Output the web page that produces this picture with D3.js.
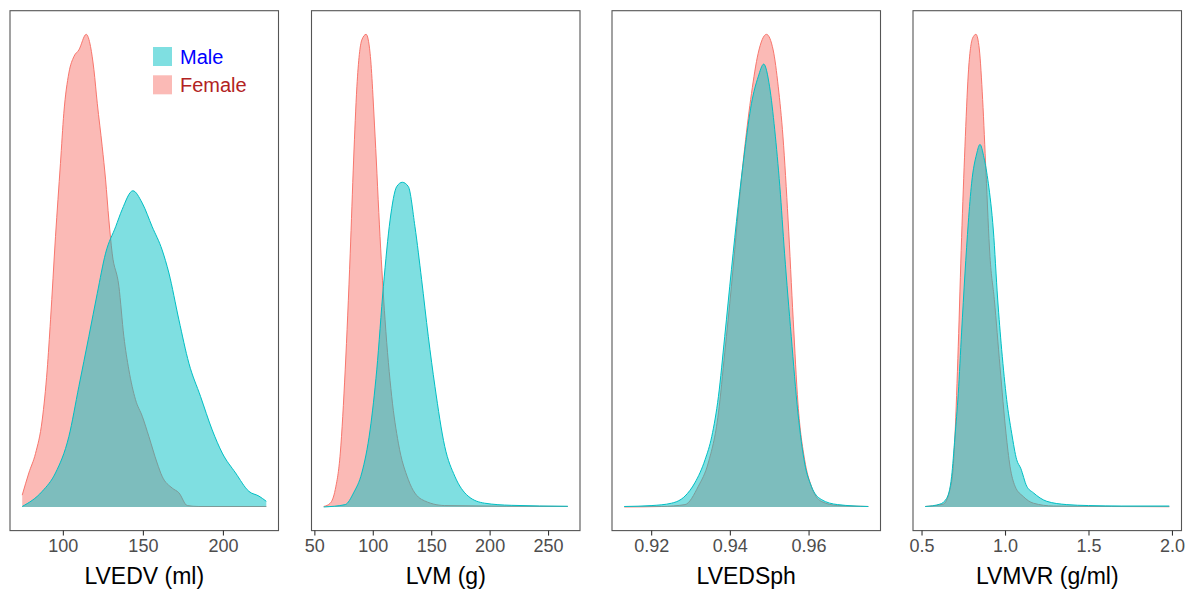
<!DOCTYPE html>
<html><head><meta charset="utf-8">
<script src="https://cdn.jsdelivr.net/npm/d3@7"></script>
<style>body{margin:0;background:#fff}svg{display:block}</style>
</head><body><svg id="c" width="1188" height="589"></svg>
<script>
// ---------- data (relative density heights) ----------
const panelTitles = ["LVEDV (ml)", "LVM (g)", "LVEDSph", "LVMVR (g/ml)"];
const seriesNames = ["Male", "Female"];

const lvedvTicks = [100, 150, 200];
const lvmTicks = [50, 100, 150, 200, 250];
const lvedsphTicks = [0.92, 0.94, 0.96];
const lvmvrTicks = [0.5, 1.0, 1.5, 2.0];

const lvedvFemale = [[74.6,0.025],[78.75,0.072],[82.9,0.113],[87.1,0.184],[90.2,0.29],[92.3,0.396],[95.4,0.572],[98.5,0.727],[100.6,0.833],[103.75,0.918],[106.9,0.953],[110,0.967],[114.6,1.0],[117.3,0.974],[119.4,0.925],[121.5,0.854],[124.6,0.762],[126.7,0.692],[128.75,0.607],[130.8,0.537],[135,0.467],[138.1,0.361],[141.25,0.29],[145.4,0.227],[149.6,0.192],[153.75,0.149],[158.9,0.093],[162,0.065],[168.3,0.04],[172.5,0.03],[177.7,0.003],[185,0.001],[227.1,0.001]];
const lvedvMale = [[74.6,0.001],[87.1,0.033],[95.4,0.072],[103.75,0.149],[110,0.255],[116.25,0.361],[121.5,0.452],[126.7,0.537],[133,0.593],[137,0.629],[143.75,0.669],[149.6,0.643],[155.8,0.593],[162,0.544],[166.25,0.495],[172.5,0.396],[178.75,0.304],[186,0.234],[193.3,0.163],[199.6,0.114],[207.9,0.072],[216.25,0.033],[222.5,0.023],[227.1,0.012]];

const lvmFemale = [[58.0,0.001],[63.6,0.008],[67.9,0.037],[72.2,0.114],[76.4,0.29],[80.7,0.537],[83.6,0.734],[86.4,0.889],[90.6,0.988],[94.3,1.0],[97.7,0.96],[102,0.783],[106.2,0.572],[110.5,0.396],[116.2,0.234],[121.9,0.135],[130.4,0.058],[141.8,0.016],[161.6,0.003],[266.9,0.001]];
const lvmMale = [[58.0,0.0],[76.4,0.005],[83.6,0.03],[90.6,0.072],[97.7,0.163],[103.4,0.29],[109.1,0.467],[114.8,0.607],[120.5,0.678],[125.3,0.687],[130.4,0.678],[136.1,0.593],[141.8,0.481],[147.5,0.361],[153.2,0.255],[161.6,0.128],[170.2,0.065],[181.6,0.023],[195.7,0.008],[218.5,0.0035],[266.9,0.0015]];

const lvedsphFemale = [[0.91315,0.0],[0.9227,0.001],[0.9286,0.005],[0.9320,0.044],[0.9345,0.093],[0.9371,0.199],[0.9387,0.326],[0.9404,0.467],[0.9421,0.622],[0.9438,0.762],[0.9455,0.875],[0.9472,0.96],[0.9493,1.0],[0.9510,0.967],[0.9523,0.889],[0.9535,0.783],[0.9548,0.607],[0.9561,0.396],[0.9573,0.22],[0.9590,0.1],[0.9607,0.044],[0.9632,0.012],[0.9674,0.003],[0.97518,0.001]];
const lvedsphMale = [[0.91315,0.001],[0.9202,0.003],[0.9252,0.008],[0.9286,0.023],[0.9311,0.051],[0.9337,0.1],[0.9354,0.149],[0.9371,0.234],[0.9387,0.361],[0.9404,0.502],[0.9421,0.636],[0.9438,0.755],[0.9455,0.854],[0.9472,0.91],[0.9486,0.937],[0.9501,0.889],[0.9514,0.798],[0.9527,0.678],[0.9539,0.537],[0.9556,0.361],[0.9573,0.199],[0.9590,0.093],[0.9607,0.044],[0.9632,0.016],[0.9674,0.005],[0.97518,0.001]];

const lvmvrFemale = [[0.522,0.001],[0.63,0.006],[0.67,0.037],[0.69,0.086],[0.70,0.148],[0.72,0.34],[0.74,0.57],[0.76,0.762],[0.78,0.916],[0.806,0.992],[0.826,1.0],[0.846,0.969],[0.866,0.862],[0.886,0.708],[0.91,0.53],[0.936,0.439],[0.97,0.297],[1.006,0.156],[1.03,0.086],[1.06,0.044],[1.11,0.022],[1.17,0.008],[1.29,0.002],[1.984,0.0005]];
const lvmvrMale = [[0.522,0.001],[0.61,0.006],[0.65,0.018],[0.68,0.064],[0.70,0.148],[0.72,0.24],[0.74,0.37],[0.76,0.493],[0.78,0.601],[0.80,0.685],[0.83,0.747],[0.85,0.767],[0.874,0.739],[0.90,0.685],[0.93,0.586],[0.956,0.44],[0.98,0.333],[1.01,0.227],[1.04,0.156],[1.07,0.10],[1.094,0.082],[1.13,0.044],[1.17,0.03],[1.25,0.012],[1.37,0.005],[1.5,0.003],[1.7,0.002],[1.984,0.002]];

// ---------- layout ----------
const panels = [
  {title: panelTitles[0], ticks: lvedvTicks, fmt: d3.format("d"), female: lvedvFemale, male: lvedvMale},
  {title: panelTitles[1], ticks: lvmTicks, fmt: d3.format("d"), female: lvmFemale, male: lvmMale},
  {title: panelTitles[2], ticks: lvedsphTicks, fmt: d3.format(".2f"), female: lvedsphFemale, male: lvedsphMale},
  {title: panelTitles[3], ticks: lvmvrTicks, fmt: d3.format(".1f"), female: lvmvrFemale, male: lvmvrMale}
];
const panelLeft = [10, 311.5, 612, 913];
const panelW = 268.5, panelTop = 10.7, panelBottom = 530.6;
const colors = {Male: "#00BFC4", Female: "#F8766D"};
const font = "'Liberation Sans', Arial, Helvetica, sans-serif";

const svg = d3.select("#c");

panels.forEach((p, i) => {
  const x0 = panelLeft[i];
  const all = p.female.concat(p.male);
  const xmin = d3.min(all, d => d[0]), xmax = d3.max(all, d => d[0]);
  const dx = (xmax - xmin) * 0.05;
  const x = d3.scaleLinear().domain([xmin - dx, xmax + dx]).range([x0, x0 + panelW]);
  const ymax = d3.max(all, d => d[1]);
  const y = d3.scaleLinear().domain([-0.05 * ymax, 1.05 * ymax]).range([panelBottom, panelTop]);

  const g = svg.append("g");
  const area = d3.area().x(d => x(d[0])).y0(y(0)).y1(d => y(d[1])).curve(d3.curveMonotoneX);
  const line = d3.line().x(d => x(d[0])).y(d => y(d[1])).curve(d3.curveMonotoneX);

  [["Female", p.female], ["Male", p.male]].forEach(([name, data]) => {
    g.append("path").attr("d", area(data)).attr("fill", colors[name]).attr("fill-opacity", 0.5);
    g.append("path").attr("d", line(data)).attr("fill", "none").attr("stroke", colors[name]).attr("stroke-width", 1);
  });

  // panel border
  g.append("rect").attr("x", x0).attr("y", panelTop).attr("width", panelW).attr("height", panelBottom - panelTop)
    .attr("fill", "none").attr("stroke", "#555").attr("stroke-width", 1.1);

  // x axis
  const ax = svg.append("g").attr("transform", `translate(0,${panelBottom})`)
    .call(d3.axisBottom(x).tickValues(p.ticks).tickFormat(p.fmt).tickSize(5).tickPadding(4));
  ax.select(".domain").remove();
  ax.selectAll(".tick line").attr("stroke", "#333").attr("stroke-width", 1.1);
  ax.selectAll(".tick text").attr("fill", "#4D4D4D").style("font-family", font).style("font-size", "18px");

  svg.append("text").attr("x", x0 + panelW / 2).attr("y", 584).attr("text-anchor", "middle")
    .style("font-family", font).style("font-size", "23px").attr("fill", "#000").text(p.title);
});

// legend
const legendColors = {Male: "#0000FF", Female: "#B22222"};
seriesNames.forEach((name, k) => {
  const ly = 47 + k * 28.3;
  svg.append("rect").attr("x", 153).attr("y", ly).attr("width", 19).attr("height", 19)
    .attr("fill", colors[name]).attr("fill-opacity", 0.5);
  svg.append("text").attr("x", 180).attr("y", ly + 17).style("font-family", font).style("font-size", "20px")
    .attr("fill", legendColors[name]).text(name);
});
</script></body></html>
